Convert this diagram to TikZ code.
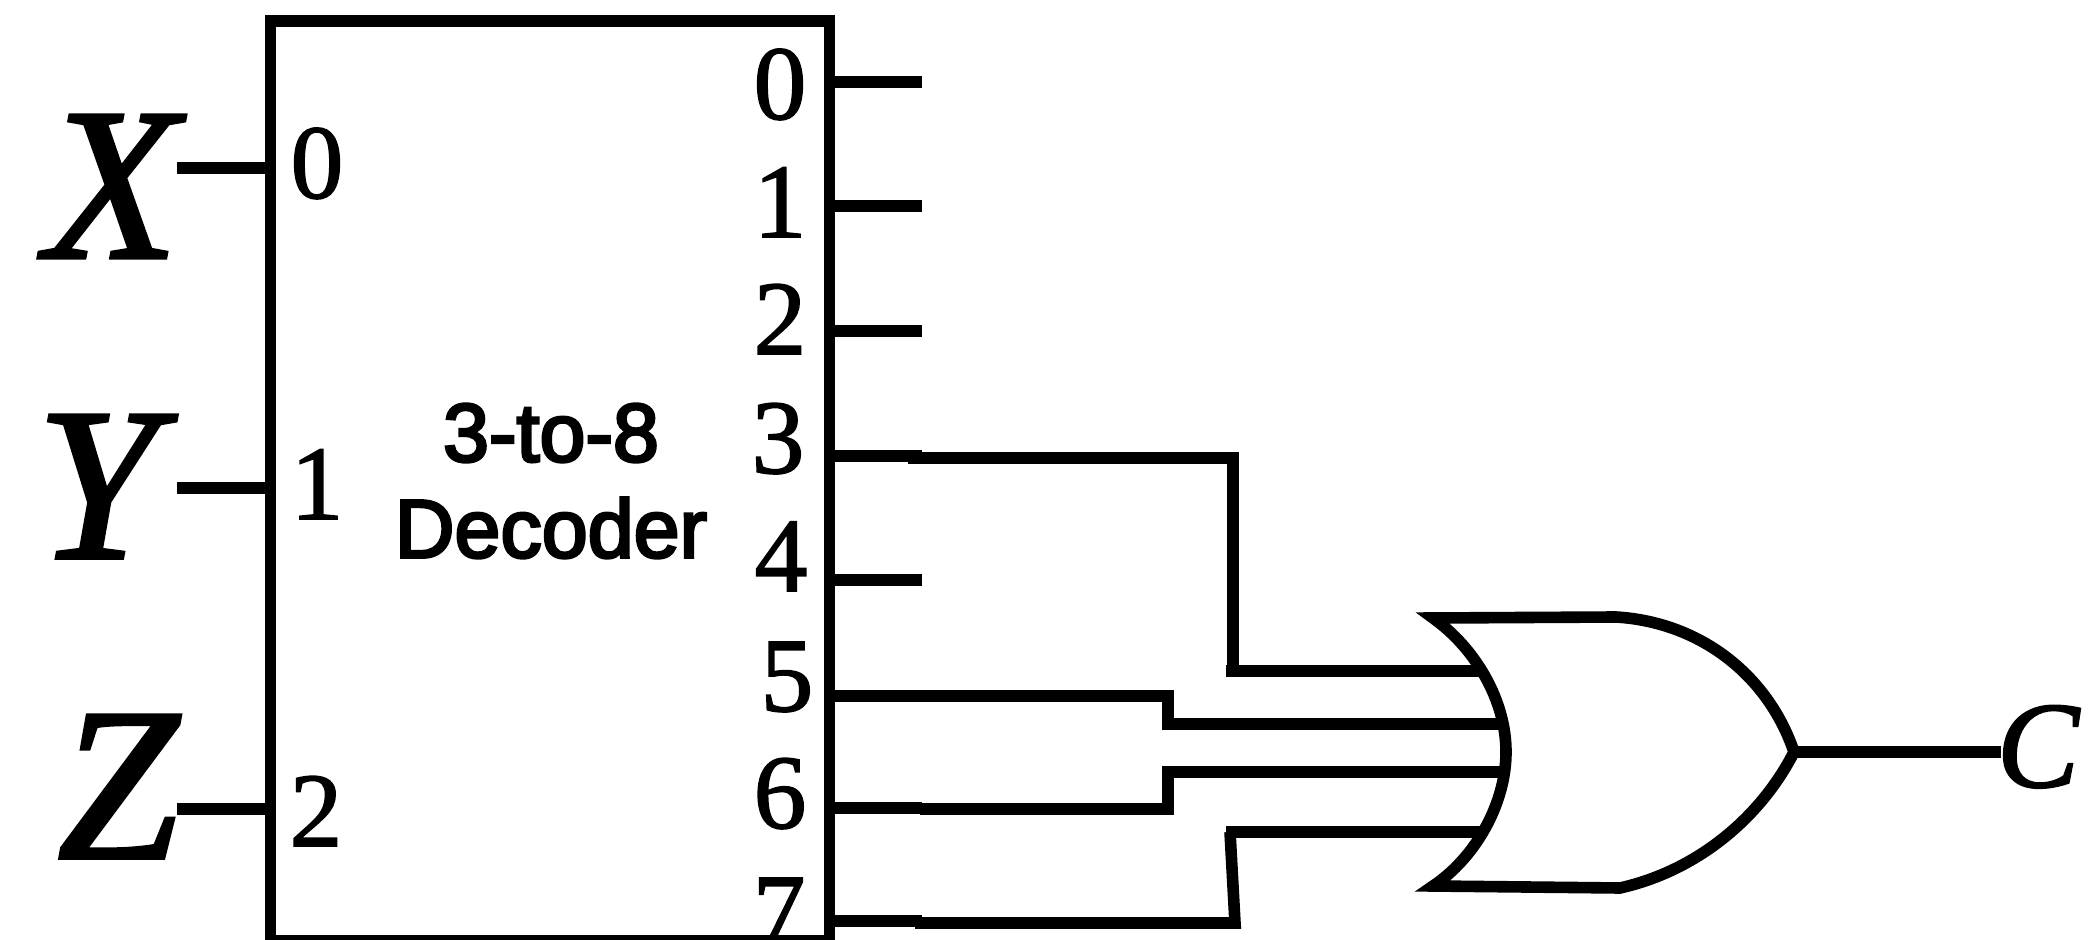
\documentclass[tikz,border=0pt]{standalone}
\usepackage{fontspec}
\setmainfont[FakeBold=1.5]{Liberation Serif}
\setsansfont[FakeBold=3.5]{Liberation Sans}
\newfontfamily\varfont[FakeBold=1.6]{Liberation Serif Italic}

\tikzset{
    wire/.style={line width=3.3pt, line cap=butt, line join=miter},
    pin/.style={inner sep=0, anchor=base, font=\fontsize{30}{30}\selectfont},
    var/.style={inner sep=0, anchor=base, font=\fontsize{62}{62}\selectfont\varfont},
}

\begin{document}
\begin{tikzpicture}[x=0.01cm, y=-0.01cm]
    \useasboundingbox (0,0) rectangle (2100,940);

    % Output digits
    \foreach \n/\px/\py in {0/780/119, 1/780/237, 2/780/354, 3/778/473, 4/781/591, 5/787/711, 6/780/828, 7/779/947}
        \node[pin] (out\n) at (\px,\py) {\n};

    % Decoder
    \node[draw, wire, minimum width=5.59cm, minimum height=9.2cm, inner sep=0] (dec) at (550,481) {};
    \node[inner sep=0, align=center, font=\sffamily\fontsize{23.5}{27.3}\selectfont] (name) at (551,481) {3-to-8\\Decoder};

    % Input digits
    \node[pin] (in0) at (317,198) {0};
    \node[pin] (in1) at (317,519) {1};
    \node[pin] (in2) at (316,846) {2};

    % Inputs
    \node[var] (varX) at (112,258) {X};
    \node[var] (varY) at (97,558) {Y};
    \node[var] (varZ) at (118,858) {Z};
    \foreach \v/\py in {X/168, Y/488, Z/809} {
        \coordinate (a\v) at (177,\py);
        \coordinate (b\v) at (dec.west |- a\v);
        \draw[wire] (a\v) -- (b\v);
    }

    % Output stubs
    \foreach \n/\py in {0/82, 1/206, 2/331, 3/456, 4/580, 5/696, 6/808, 7/921} {
        \coordinate (s\n) at (dec.east |- 0,\py);
        \coordinate (e\n) at (922,\py);
        \draw[wire] (s\n) -- (e\n);
    }

    % Gate
    \coordinate (tl) at (1433,618);
    \coordinate (tr) at (1616,617);
    \coordinate (tip) at (1794,752);
    \coordinate (br) at (1620,888);
    \coordinate (bl) at (1433,886);
    \coordinate (back) at (1506,752);
    \draw[wire, miter limit=20] (tl) -- (tr)
        .. controls (1700,622) and (1768,675) .. (tip)
        .. controls (1762,815) and (1700,870) .. (br)
        -- (bl)
        .. controls (1475,858) and (1506,804) .. (back)
        .. controls (1506,700) and (1475,648) .. cycle;

    % Gate inputs
    \coordinate (w3a) at (908,458);
    \coordinate (w3b) at (1233,458);
    \coordinate (w3c) at (1233,672);
    \coordinate (w3d) at (1226,671);
    \coordinate (w3e) at (1481,671);
    \draw[wire] (w3a) -- (w3b) -- (w3c);
    \draw[wire] (w3d) -- (w3e);

    \coordinate (w5a) at (915,696);
    \coordinate (w5b) at (1168,696);
    \coordinate (w5c) at (1168,724);
    \coordinate (w5d) at (1498,724);
    \draw[wire] (w5a) -- (w5b) -- (w5c) -- (w5d);

    \coordinate (w6a) at (920,809);
    \coordinate (w6b) at (1168,809);
    \coordinate (w6c) at (1168,772);
    \coordinate (w6d) at (1501,772);
    \draw[wire] (w6a) -- (w6b) -- (w6c) -- (w6d);

    \coordinate (w7a) at (915,923);
    \coordinate (w7b) at (1235,923);
    \coordinate (w7c) at (1230,832);
    \coordinate (w7d) at (1226,832);
    \coordinate (w7e) at (1483,832);
    \draw[wire] (w7a) -- (w7b) -- (w7c);
    \draw[wire] (w7d) -- (w7e);

    % Output
    \node[var, font=\fontsize{35}{35}\selectfont\varfont] (varC) at (2038,787) {C};
    \coordinate (end) at (2001,752);
    \draw[wire] (tip) -- (end);
\end{tikzpicture}
\end{document}
